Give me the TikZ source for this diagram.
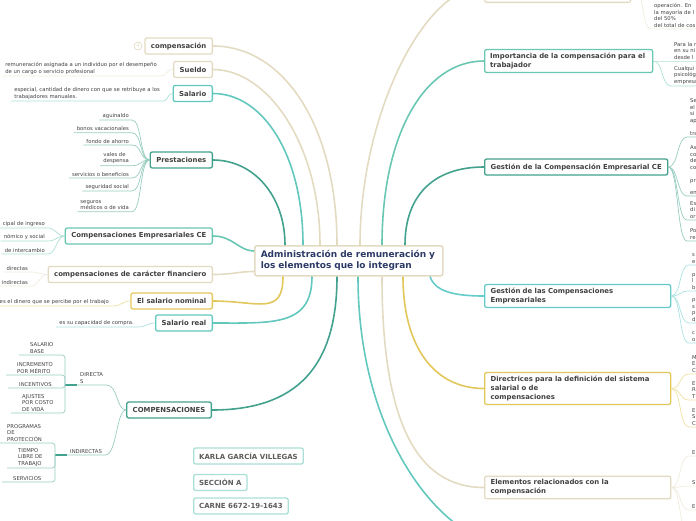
\documentclass[tikz,border=0pt]{standalone}
\usepackage{fontspec}
\setmainfont{DejaVu Sans}
\usepackage{xcolor}
\usetikzlibrary{positioning,calc}
\definecolor{MInk}{HTML}{404040}
\definecolor{MNavy}{HTML}{2C3A66}
\definecolor{MBeige}{HTML}{E3DBC1}
\definecolor{MTeal}{HTML}{62C8BE}
\definecolor{MTealD}{HTML}{43A28D}
\definecolor{MGreen}{HTML}{69C7B3}
\definecolor{MCyan}{HTML}{66CBCB}
\definecolor{MGold}{HTML}{E2C75A}
\definecolor{MTag}{HTML}{A9DFD7}

\begin{document}
\begin{tikzpicture}[x=1pt,y=-1pt,
  hub/.style={draw=MBeige, fill=white, line width=1.5pt, rounded corners=2pt, font=\fontsize{9}{11}\selectfont\bfseries, text=MNavy, text width=176pt, inner xsep=6pt, inner ysep=4pt, minimum height=30pt, align=left},
  topic/.style={draw=#1, fill=white, line width=1.3pt, rounded corners=2pt, font=\fontsize{6.9}{9}\selectfont\bfseries, text=MInk, inner xsep=6pt, inner ysep=3.5pt, minimum height=16pt, align=left},
  leaf/.style={font=\fontsize{5.3}{6.5}\selectfont, text=MInk, inner xsep=3pt, inner ysep=1.5pt, align=left},
  rleaf/.style={leaf, text width=60pt},
  limb/.style={draw=#1, line width=1.6pt},
  twig/.style={draw=#1!55!white, line width=0.7pt},
  badge/.style={draw=MTag, fill=white, line width=1.3pt, rounded corners=2pt, font=\fontsize{7}{8}\selectfont\bfseries, text=MInk!85, inner xsep=5.5pt, minimum height=16pt},
  fold/.style={circle, draw=MBeige, line width=0.7pt, minimum size=8pt, inner sep=0pt, font=\fontsize{5}{5}\selectfont, text=MBeige}]
  \useasboundingbox (0,0) rectangle (696,520);
  \clip (0,0) rectangle (696,520);

  \node[hub, anchor=north west] (root) at (254,245) {Administración de remuneración y\\los elementos que lo integran};

  \node[topic=MBeige, anchor=east] (comp) at (213,46) {compensación};
  \node[fold] (cfold) at (138,46) {4};
  \node[topic=MBeige, anchor=east] (sueldo) at (213,69.5) {Sueldo};
  \node[topic=MTeal, anchor=east] (salario) at (213,93.5) {Salario};
  \node[topic=MTealD, anchor=east] (prest) at (213,160) {Prestaciones};
  \node[topic=MGreen, anchor=east] (empce) at (213,236) {Compensaciones Empresariales CE};
  \node[topic=MBeige, anchor=east] (financ) at (213,274.5) {compensaciones de carácter financiero};
  \node[topic=MGold, anchor=east] (nominal) at (213,301) {El salario nominal};
  \node[topic=MTeal, anchor=east] (sreal) at (213,323) {Salario real};
  \node[topic=MTealD, anchor=east] (compens) at (212,410) {COMPENSACIONES};

  \node[topic=MBeige, anchor=south west, minimum width=146pt, minimum height=32pt] (r0) at (484,3) {};
  \node[topic=MGreen, anchor=west, text width=157pt, inner xsep=5.5pt] (imp) at (484,61) {Importancia de la compensación para el\\trabajador};
  \node[topic=MTealD, anchor=west] (gestce) at (484,167) {Gestión de la Compensación Empresarial CE};
  \node[topic=MCyan, anchor=west, text width=174pt] (gestemp) at (484,296) {Gestión de las Compensaciones\\Empresariales};
  \node[topic=MGold, anchor=west, text width=174pt] (direct) at (484,388.5) {Directrices para la definición del sistema\\salarial o de\\compensaciones};
  \node[topic=MBeige, anchor=west, text width=174pt] (elem) at (484,487.5) {Elementos relacionados con la\\compensación};

  \node[badge, anchor=west] (autor) at (193,456) {KARLA GARCÍA VILLEGAS};
  \node[badge, anchor=west] (secc) at (193,482.5) {SECCIÓN A};
  \node[badge, anchor=west] (carne) at (193,506) {CARNE 6672-19-1643};

  \draw[limb=MBeige] (comp.east) .. controls +(70,0) and +(0,-120) .. ($(root.north west)+(83,0)$);
  \draw[limb=MBeige] (sueldo.east) .. controls +(55,0) and +(0,-100) .. ($(root.north west)+(66,0)$);
  \draw[limb=MTeal] (salario.east) .. controls +(50,0) and +(0,-90) .. ($(root.north west)+(49,0)$);
  \draw[limb=MTealD] (prest.east) .. controls +(40,0) and +(0,-50) .. ($(root.north west)+(31,0)$);
  \draw[limb=MGreen] (empce.east) .. controls +(20,0) and +(-15,0) .. ($(root.north west)+(0,6)$);
  \draw[limb=MBeige] (financ.east) .. controls +(20,0) and +(-15,0) .. ($(root.south west)+(0,-5)$);
  \draw[limb=MGold] (nominal.east) .. controls +(45,0) and +(0,40) .. ($(root.south west)+(29,0)$);
  \draw[limb=MTeal] (sreal.east) .. controls +(60,0) and +(0,50) .. ($(root.south west)+(58,0)$);
  \draw[limb=MTealD] (compens.east) .. controls +(85,0) and +(0,90) .. ($(root.south west)+(83,0)$);

  \draw[limb=MBeige] ($(root.north west)+(106,0)$) .. controls +(0,-130) and +(-60,0) .. (r0.west);
  \draw[limb=MGreen] ($(root.north west)+(128,0)$) .. controls +(0,-110) and +(-60,0) .. (imp.west);
  \draw[limb=MTealD] ($(root.north west)+(151,0)$) .. controls +(0,-50) and +(-50,0) .. (gestce.west);
  \draw[limb=MCyan] ($(root.south west)+(176,0)$) .. controls +(5,15) and +(-30,0) .. (gestemp.west);
  \draw[limb=MGold] ($(root.south west)+(149,0)$) .. controls +(0,70) and +(-50,0) .. (direct.west);
  \draw[limb=MBeige] ($(root.south west)+(128,0)$) .. controls +(0,140) and +(-70,0) .. (elem.west);
  \coordinate (lower) at (500,545);
  \draw[limb=MTeal] ($(root.south west)+(104,0)$) .. controls +(0,160) and +(-60,-10) .. (lower);

  \node[leaf, anchor=south east] (sueldo1) at (160,76) {remuneración asignada a un individuo por el desempeño\\de un cargo o servicio profesional};
  \draw[twig=MBeige] (sueldo1.south west) -- (sueldo1.south east) .. controls +(8,0) and +(-8,0) .. (sueldo.west);
  \node[leaf, anchor=south east] (salario1) at (163,101) {especial, cantidad de dinero con que se retribuye a los\\trabajadores manuales.};
  \draw[twig=MTeal] (salario1.south west) -- (salario1.south east) .. controls +(6,0) and +(-6,0) .. (salario.west);

  \node[leaf, anchor=south east] (prest1) at (132,120) {aguinaldo};
  \node[leaf, anchor=south east] (prest2) at (132,132.7) {bonos vacacionales};
  \node[leaf, anchor=south east] (prest3) at (132,145) {fondo de ahorro};
  \node[leaf, anchor=south east] (prest4) at (132,165.7) {vales de\\despensa};
  \node[leaf, anchor=south east] (prest5) at (132,178) {servicios o beneficios};
  \node[leaf, anchor=south east] (prest6) at (132,191) {seguridad social};
  \node[leaf, anchor=south east] (prest7) at (132,211.7) {seguros\\médicos o de vida};
  \foreach \i in {1,...,7}
    \draw[twig=MTealD] (prest\i.south west) -- (prest\i.south east) .. controls +(10,0) and +(-10,0) .. (prest.west);

  \node[leaf, anchor=south east] (empce1) at (48,228) {cipal de ingreso};
  \node[leaf, anchor=south east] (empce2) at (48,241) {nómico y social};
  \node[leaf, anchor=south east] (empce3) at (48,254) {de intercambio};
  \foreach \i in {1,2,3}
    \draw[twig=MGreen] (empce\i.south west) -- (empce\i.south east) .. controls +(8,0) and +(-8,0) .. (empce.west);

  \node[leaf, anchor=south east] (financ1) at (31,272) {directas};
  \node[leaf, anchor=south east] (financ2) at (31,286) {indirectas};
  \foreach \i in {1,2}
    \draw[twig=MBeige] (financ\i.south west) -- (financ\i.south east) .. controls +(8,0) and +(-8,0) .. (financ.west);

  \node[leaf, anchor=south east] (nominal1) at (112,306) {es el dinero que se percibe por el trabajo};
  \draw[twig=MGold] (nominal1.south west) -- (nominal1.south east) .. controls +(10,0) and +(-8,0) .. (nominal.west);
  \node[leaf, anchor=south east] (sreal1) at (137,327) {es su capacidad de compra.};
  \draw[twig=MTeal] (sreal1.south west) -- (sreal1.south east) .. controls +(10,0) and +(-8,0) .. (sreal.west);

  \node[leaf, anchor=south west] (direc) at (77,385) {DIRECTA\\S};
  \node[leaf, anchor=south west] (indir) at (67,455) {INDIRECTAS};
  \coordinate (djoin) at (65,385);
  \coordinate (ijoin) at (55,455);
  \draw[twig=MTealD] (direc.south west) -- (direc.south east) .. controls +(12,0) and +(-10,0) .. (compens.west);
  \draw[twig=MTealD] (indir.south west) -- (indir.south east) .. controls +(12,0) and +(-10,0) .. (compens.west);
  \draw[MTealD, line width=1.6pt] (djoin) -- (direc.south west);
  \draw[MTealD, line width=1.6pt] (ijoin) -- (indir.south west);

  \node[leaf, anchor=south west] (sbase) at (27,355) {SALARIO\\BASE};
  \node[leaf, anchor=south west] (merit) at (14,375) {INCREMENTO\\POR MÉRITO};
  \node[leaf, anchor=south west] (incent) at (16,388) {INCENTIVOS};
  \node[leaf, anchor=south west] (ajust) at (19,413) {AJUSTES\\POR COSTO\\DE VIDA};
  \foreach \n in {sbase,merit,incent,ajust}
    \draw[twig=MTealD, rounded corners=3pt] ([xshift=-8pt]\n.south west) -- (djoin |- \n.south) -- (djoin);

  \node[leaf, anchor=south west] (progr) at (4,443) {PROGRAMAS\\DE\\PROTECCIÓN};
  \node[leaf, anchor=south west] (tiempo) at (15,468) {TIEMPO\\LIBRE DE\\TRABAJO};
  \node[leaf, anchor=south west] (servi) at (10,482) {SERVICIOS};
  \foreach \n in {progr,tiempo,servi}
    \draw[twig=MTealD, rounded corners=3pt] ([xshift=-8pt]\n.south west) -- (ijoin |- \n.south) -- (ijoin);

  \node[rleaf, anchor=south west] (r0a) at (651,29) {operación. En\\la mayoría de l\\del 50\%\\del total de cos};
  \draw[twig=MBeige] (r0.east) .. controls +(14,0) and +(-10,0) .. (r0a.south west) -- (r0a.south east);

  \node[rleaf, anchor=south west] (imp1) at (671,61) {Para la r\\en su ni\\desde l};
  \node[rleaf, anchor=south west] (imp2) at (671,86) {Cualqui\\psicológ\\empresa};
  \foreach \i in {1,2}
    \draw[twig=MGreen] (imp.east) .. controls +(10,0) and +(-10,0) .. (imp\i.south west) -- (imp\i.south east);

  \node[rleaf, anchor=south west] (gestce1) at (687,137) {Se\\el\\si\\ap\\[6.5pt]tra};
  \node[rleaf, anchor=south west] (gestce2) at (687,196) {As\\co\\de\\co\\[6.5pt]pr\\[5.5pt]en};
  \node[rleaf, anchor=south west] (gestce3) at (687,220) {Es\\di\\or};
  \node[rleaf, anchor=south west] (gestce4) at (687,241) {Po\\re};
  \foreach \i in {1,...,4}
    \draw[twig=MTealD] (gestce.east) .. controls +(10,0) and +(-10,0) .. (gestce\i.south west) -- (gestce\i.south east);

  \node[rleaf, anchor=south west] (gestemp1) at (689,265) {s\\e};
  \node[rleaf, anchor=south west] (gestemp2) at (689,291) {p\\l\\b};
  \node[rleaf, anchor=south west] (gestemp3) at (689,323) {p\\s\\p\\d};
  \node[rleaf, anchor=south west] (gestemp4) at (689,343) {c\\o};
  \foreach \i in {1,...,4}
    \draw[twig=MCyan] (gestemp.east) .. controls +(10,0) and +(-10,0) .. (gestemp\i.south west) -- (gestemp\i.south east);

  \node[rleaf, anchor=south west] (direct1) at (689,374) {M\\E\\C};
  \node[rleaf, anchor=south west] (direct2) at (689,400) {E\\R\\T};
  \node[rleaf, anchor=south west] (direct3) at (689,427) {E\\S\\C};
  \foreach \i in {1,2,3}
    \draw[twig=MGold] (direct.east) .. controls +(10,0) and +(-10,0) .. (direct\i.south west) -- (direct\i.south east);

  \node[rleaf, anchor=south west] (elem1) at (689,456) {E};
  \node[rleaf, anchor=south west] (elem2) at (689,486) {S};
  \node[rleaf, anchor=south west] (elem3) at (689,510) {E};
  \foreach \i in {1,2,3}
    \draw[twig=MBeige] (elem.east) .. controls +(10,0) and +(-10,0) .. (elem\i.south west) -- (elem\i.south east);
  \coordinate (elem4) at (689,535);
  \draw[twig=MBeige] (elem.east) .. controls +(10,0) and +(-10,0) .. (elem4);
\end{tikzpicture}
\end{document}
